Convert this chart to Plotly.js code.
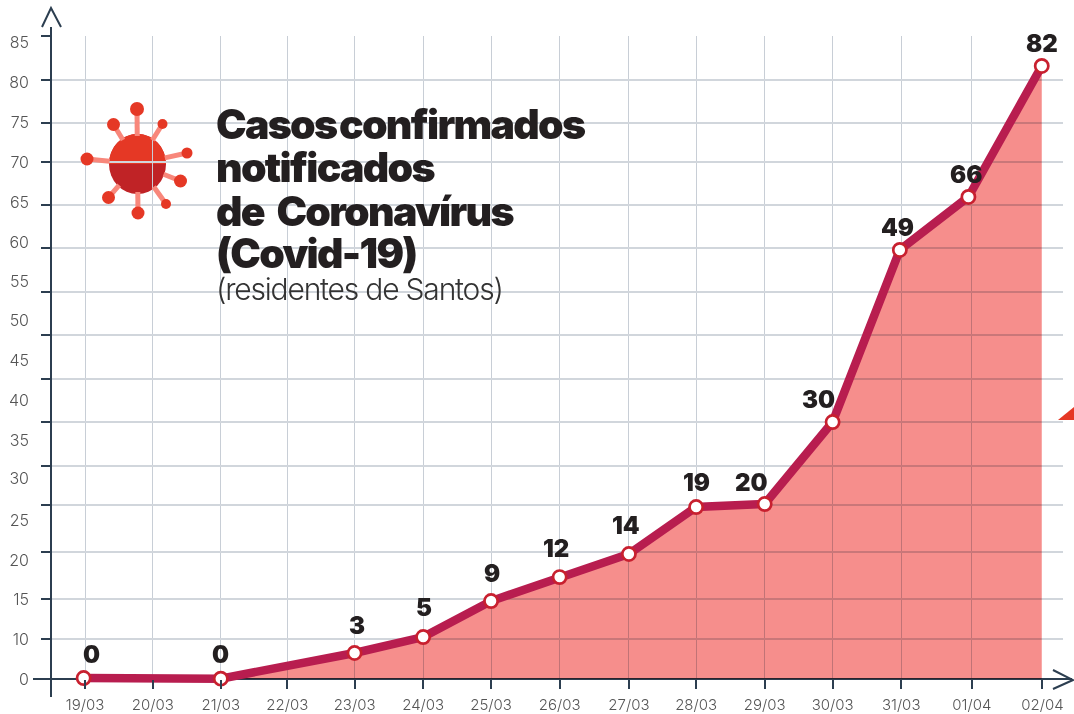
<!DOCTYPE html>
<html>
<head>
<meta charset="utf-8">
<script src="https://cdn.plot.ly/plotly-3.0.1.min.js"></script>
<style>
html,body{margin:0;padding:0;background:#fff}
#chart{width:1074px;height:714px}
.js-fill{mix-blend-mode:multiply}
.annotation[data-index="13"] text,.annotation[data-index="14"] text,.annotation[data-index="15"] text,.annotation[data-index="16"] text{letter-spacing:-1.7px}
.annotation[data-index="13"] text{word-spacing:-4px}
.annotation[data-index="15"] text{word-spacing:6px}
.annotation[data-index="17"] text{letter-spacing:-1.2px}
</style>
</head>
<body>
<div id="chart"></div>
<script>
// X axis
const dateLabels = ['19/03','20/03','21/03','22/03','23/03','24/03','25/03','26/03','27/03','28/03','29/03','30/03','31/03','01/04','02/04'];
const datePositions = [0,1,2,2.98,3.97,4.98,5.98,6.99,8.01,9,10.01,11.01,12.02,13.06,14.1];
// Plotted series (heights as drawn, read against the printed scale) and the printed values
const pointDates = [-0.02,2,3.97,4.98,5.98,6.99,8.01,9,10.01,11.01,12,13.01,14.09];
const pointHeights = [0.13,0.05,3.47,5.6,10.4,13.6,16.68,22.95,23.35,34.29,57.25,64.32,81.8];
const pointLabels = ['0','0','3','5','9','12','14','19','20','30','49','66','82'];
// Y axis: printed labels and where they sit; grid lines are spaced separately in the source
const yTickText = ['85','80','75','70','65','60','55','50','45','40','35','30','25','20','15','10','0'];
const yTickPositions = [85,79.66,74.33,68.99,63.65,58.31,53.11,47.9,42.57,37.23,31.89,26.82,21.22,15.88,10.68,5.34,0];
const yGridPositions = [85.8,79.93,74.19,68.99,63.25,57.51,51.64,45.9,40.03,34.29,28.42,23.22,16.95,10.68,5.34,0];

const W = 1012, H = 643, L = 51, B = 679;
const px = v => (v - L) / W;
const py = v => (B - v) / H;
const navy = '#2c3e50';
const xRange = [-0.5007, 14.403], yRange = [0, 85.8];

// label offsets in pixels
const labelDx = [8,0,2,1,1,-4,-3,0,-13,-14,-2,-2,0];
const labelDy = [24,24,28,30,28,29,29,25,22,23,22,22,22];

const traces = [
  {x: pointDates, y: pointHeights, mode: 'lines', fill: 'tozeroy', fillcolor: '#f68e8c',
   line: {color: '#b81d4f', width: 8.5, shape: 'linear'}, hoverinfo: 'skip', xaxis: 'x', yaxis: 'y', cliponaxis: false},
  {x: pointDates, y: pointHeights, mode: 'markers', cliponaxis: false,
   marker: {size: 13.2, color: '#fff', line: {color: '#c8202f', width: 2.7}},
   hoverinfo: 'x+y', xaxis: 'x2', yaxis: 'y2'}
];

function seg(x0,y0,x1,y1,color,w,layer){
  return {type:'line',xref:'paper',yref:'paper',x0:px(x0),y0:py(y0),x1:px(x1),y1:py(y1),
          line:{color:color,width:w},layer:layer||'above'};
}
function disc(cx,cy,rx,ry,color,layer){
  return {type:'circle',xref:'paper',yref:'paper',x0:px(cx-rx),x1:px(cx+rx),y0:py(cy+ry),y1:py(cy-ry),
          fillcolor:color,line:{width:0},layer:layer||'above'};
}
function poly(pts,fill,line,w,closed){
  const d = pts.map((p,i)=>(i?'L':'M')+px(p[0])+','+py(p[1])).join(' ')+(closed?' Z':'');
  return {type:'path',xref:'paper',yref:'paper',path:d,
          fillcolor:fill||'rgba(0,0,0,0)',line:{color:line||'rgba(0,0,0,0)',width:w||0},layer:'above'};
}

// Virus icon
const vc = [137.5,164];
const balls = [[137,109,7],[113.5,124.5,6.5],[162.5,124,5],[187,153,5.5],[180.5,181,6.5],[166,204,5],[138,213,6.5],[108.5,197.5,6.5],[87,159,6.5]];
const shapes = [];
shapes.push(disc(vc[0],vc[1],28.5,30,'#c02326','below'));
const halfPts = [];
for(let i=0;i<=40;i++){const a=Math.PI*i/40;halfPts.push([vc[0]-28.5*Math.cos(a),vc[1]-30*Math.sin(a)]);}
const half = poly(halfPts,'#e53825',null,0,true); half.layer='below'; shapes.push(half);
balls.forEach(b=>{
  const dx=b[0]-vc[0],dy=b[1]-vc[1],d=Math.hypot(dx,dy);
  shapes.push(seg(vc[0]+dx/d*28,vc[1]+dy/d*28,b[0],b[1],'#f8877b',5,'above'));
});
balls.forEach(b=>shapes.push(disc(b[0],b[1],b[2],b[2],'#e53825','above')));

// Axes with arrow heads (the zero line itself is the y axis zeroline, under the series)
shapes.push(seg(33,679,51,679,navy,2));
shapes.push(seg(1063,679,1072,679,navy,2));
shapes.push(seg(51,27,51,697,navy,2));
shapes.push(poly([[42,27],[51,8],[61,27]],null,navy,2,false));
shapes.push(poly([[1053,670],[1073,680],[1053,689]],null,navy,2,false));
// Red corner mark at the right edge
shapes.push(poly([[1058,420],[1074,407],[1074,420]],'#e53825',null,0,true));

const annotations = pointLabels.map((t,i)=>({
  x: pointDates[i], y: pointHeights[i], xref:'x', yref:'y', text:t, showarrow:false,
  xshift: labelDx[i], yshift: labelDy[i],
  font:{family:'Inter, Arial, sans-serif',size:24,color:'#231f20',weight:900}
}));
const titleLines = [['Casos confirmados',124],['notificados',167],['de Coronavírus',211],['(Covid-19)',253]];
titleLines.forEach(l=>annotations.push({
  xref:'paper',yref:'paper',x:px(214),y:py(l[1]),xanchor:'left',yanchor:'middle',align:'left',showarrow:false,text:l[0],
  captureevents:false,font:{family:'Inter, Arial, sans-serif',size:41,color:'#231f20',weight:900}
}));
annotations.push({xref:'paper',yref:'paper',x:px(214),y:py(289),xanchor:'left',yanchor:'middle',align:'left',showarrow:false,
  text:'(residentes de Santos)',font:{family:'Inter, Arial, sans-serif',size:30,color:'#333',weight:300}});

const layout = {
  width:1074,height:714,
  margin:{l:51,r:11,t:36,b:35,pad:0},
  paper_bgcolor:'#fff',plot_bgcolor:'rgba(0,0,0,0)',
  showlegend:false,hovermode:'closest',
  xaxis:{range:xRange,tickmode:'array',tickvals:datePositions.slice(0,14),showticklabels:false,ticks:'',
         showgrid:true,gridcolor:'#c8ced6',gridwidth:1,zeroline:false,showline:false,fixedrange:true},
  yaxis:{range:yRange,tickmode:'array',tickvals:yGridPositions,showticklabels:false,ticks:'outside',ticklen:9,tickwidth:2,tickcolor:navy,
         showgrid:true,gridcolor:'#d1d6dc',gridwidth:2,zeroline:true,zerolinecolor:navy,zerolinewidth:2,showline:false,fixedrange:true},
  xaxis2:{range:xRange,overlaying:'x',anchor:'y2',side:'bottom',tickmode:'array',tickvals:datePositions,ticktext:dateLabels,
          ticks:'outside',ticklen:9,tickwidth:2,tickcolor:navy,showgrid:false,zeroline:false,showline:false,ticklabelstandoff:3,
          tickfont:{family:'Inter, Arial, sans-serif',size:15,color:'#555',weight:300},tickangle:0,fixedrange:true},
  yaxis2:{range:yRange,overlaying:'y',anchor:'x2',side:'left',tickmode:'array',tickvals:yTickPositions,ticktext:yTickText,
          ticks:'',showgrid:false,zeroline:false,showline:false,ticklabelstandoff:21,
          tickfont:{family:'Inter, Arial, sans-serif',size:16,color:'#555',weight:300},fixedrange:true},
  shapes:shapes,annotations:annotations
};
Plotly.newPlot('chart',traces,layout,{displayModeBar:false,responsive:false}).then(()=>{
  // let the thick series line spill past the plot area along the zero line
  document.querySelectorAll('.cartesianlayer [clip-path], .cartesianlayer [style*="clip-path"]').forEach(e=>{
    e.removeAttribute('clip-path'); e.style.clipPath='none';
  });
});
</script>
</body>
</html>
